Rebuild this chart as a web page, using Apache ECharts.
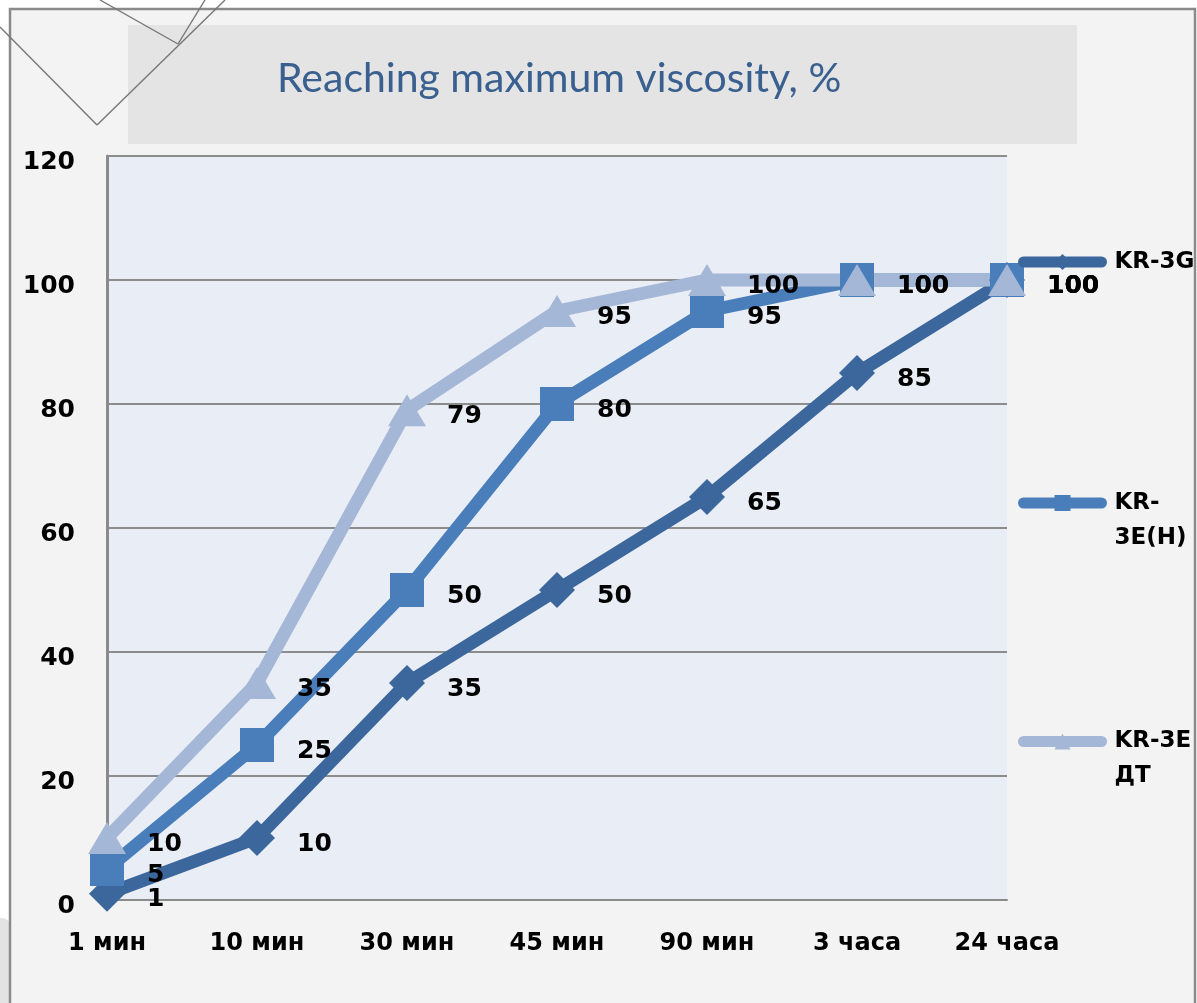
<!DOCTYPE html>
<html>
<head>
<meta charset="utf-8">
<title>Reaching maximum viscosity, %</title>
<script src="https://cdn.jsdelivr.net/npm/echarts@6/dist/echarts.min.js"></script>
<style>
  html, body { margin: 0; padding: 0; background: #ffffff; }
  #chart { width: 1197px; height: 1003px; }
</style>
</head>
<body>
<div id="chart"></div>
<script>
// Time points after mixing
const categories = ['1 мин', '10 мин', '30 мин', '45 мин', '90 мин', '3 часа', '24 часа'];

// Share of maximum viscosity reached, %
const kr3g = [1, 10, 35, 50, 65, 85, 100];
const kr3eH = [5, 25, 50, 80, 95, 100, 100];
const kr3eDT = [10, 35, 79, 95, 100, 100, 100];

const seriesNames = ['KR-3G', 'KR-3E(H)', 'KR-3E ДТ'];
// legend captions wrap like the narrow legend column; a leading blank line
// keeps the first caption line level with the legend swatch
const legendLabels = ['KR-3G', '\nKR-\n3E(H)', '\nKR-3E\nДТ'];

const yTicks = { min: 0, max: 120, step: 20 };

const colors = ['#3c679c', '#4a7ebb', '#a5b7d6'];
const boldFont = 'DejaVu Sans';

function labelFor(symbolWidth) {
  return {
    show: true,
    position: 'right',
    distance: 40 - symbolWidth / 2,
    offset: [0, 6],
    color: '#000',
    fontFamily: boldFont,
    fontWeight: 'bold',
    fontSize: 25
  };
}

function makeSeries(name, data, color, symbol, size, symbolWidth) {
  return {
    name: name,
    type: 'line',
    data: data,
    symbol: symbol,
    symbolSize: size,
    showAllSymbol: true,
    lineStyle: { color: color, width: 13, cap: 'round', join: 'round' },
    itemStyle: { color: color, opacity: 1 },
    label: labelFor(symbolWidth),
    emphasis: { disabled: true },
    animation: false
  };
}

function makeLegend(idx, top) {
  return {
    data: [seriesNames[idx]],
    orient: 'vertical',
    left: 1018,
    top: top,
    padding: 0,
    itemWidth: 78,
    itemHeight: 20,
    selectedMode: false,
    formatter: function () { return legendLabels[idx]; },
    lineStyle: { width: 11, cap: 'round' },
    textStyle: {
      color: '#000',
      fontFamily: boldFont,
      fontWeight: 'bold',
      fontSize: 23,
      lineHeight: 35,
      padding: [0, 0, 0, 8]
    }
  };
}

const chart = echarts.init(document.getElementById('chart'), null, { renderer: 'canvas' });

chart.setOption({
  backgroundColor: '#ffffff',
  animation: false,
  title: {
    text: 'Reaching maximum viscosity, %',
    left: 277,
    top: 58,
    padding: 0,
    textStyle: {
      color: '#3a6090',
      fontFamily: 'Lato',
      fontWeight: 'normal',
      fontSize: 41
    }
  },
  graphic: [
    // outer chart frame
    {
      type: 'rect', z: -20, silent: true,
      shape: { x: 10, y: 9, width: 1185, height: 1010 },
      style: { fill: '#f3f3f3', stroke: '#8a8a8a', lineWidth: 2.5 }
    },
    // small tab at the lower-left edge
    {
      type: 'rect', z: -21, silent: true,
      shape: { x: -10, y: 918, width: 20, height: 120, r: 8 },
      style: { fill: '#e3e3e3' }
    },
    // title band
    {
      type: 'rect', z: -15, silent: true,
      shape: { x: 128, y: 25, width: 949, height: 119 },
      style: { fill: '#e4e4e4' }
    },
    // corner ornament
    { type: 'line', z: -10, silent: true, shape: { x1: 0, y1: 27, x2: 97, y2: 125 }, style: { stroke: '#777777', lineWidth: 1.4 } },
    { type: 'line', z: -10, silent: true, shape: { x1: 97, y1: 125, x2: 225, y2: 0 }, style: { stroke: '#777777', lineWidth: 1.4 } },
    { type: 'line', z: -10, silent: true, shape: { x1: 100, y1: 0, x2: 178, y2: 44 }, style: { stroke: '#777777', lineWidth: 1.4 } },
    { type: 'line', z: -10, silent: true, shape: { x1: 178, y1: 44, x2: 205, y2: 0 }, style: { stroke: '#777777', lineWidth: 1.4 } }
  ],
  grid: {
    left: 107,
    top: 156,
    width: 900,
    height: 744,
    show: true,
    backgroundColor: '#e9edf5',
    borderWidth: 0,
    containLabel: false,
    outerBoundsMode: 'none'
  },
  legend: [
    makeLegend(0, 244.5),
    makeLegend(1, 450.5),
    makeLegend(2, 689)
  ],
  xAxis: {
    type: 'category',
    data: categories,
    boundaryGap: false,
    axisLine: { show: true, lineStyle: { color: '#8a8a8a', width: 2 } },
    axisTick: { show: false },
    splitLine: { show: false },
    axisLabel: {
      margin: 32,
      color: '#000',
      fontFamily: boldFont,
      fontWeight: 'bold',
      fontSize: 24,
      interval: 0
    }
  },
  yAxis: {
    type: 'value',
    min: yTicks.min,
    max: yTicks.max,
    interval: yTicks.step,
    axisLine: { show: true, lineStyle: { color: '#8a8a8a', width: 3 } },
    axisTick: { show: false },
    splitLine: { show: true, lineStyle: { color: '#8c8c8c', width: 2 } },
    axisLabel: {
      margin: 32,
      verticalAlign: 'top',
      lineHeight: 12,
      color: '#000',
      fontFamily: boldFont,
      fontWeight: 'bold',
      fontSize: 25
    }
  },
  series: [
    makeSeries(seriesNames[0], kr3g, colors[0], 'diamond', 36, 36),
    makeSeries(seriesNames[1], kr3eH, colors[1], 'rect', 34, 34),
    makeSeries(seriesNames[2], kr3eDT, colors[2], 'triangle', [38, 32], 38)
  ]
});
</script>
</body>
</html>
